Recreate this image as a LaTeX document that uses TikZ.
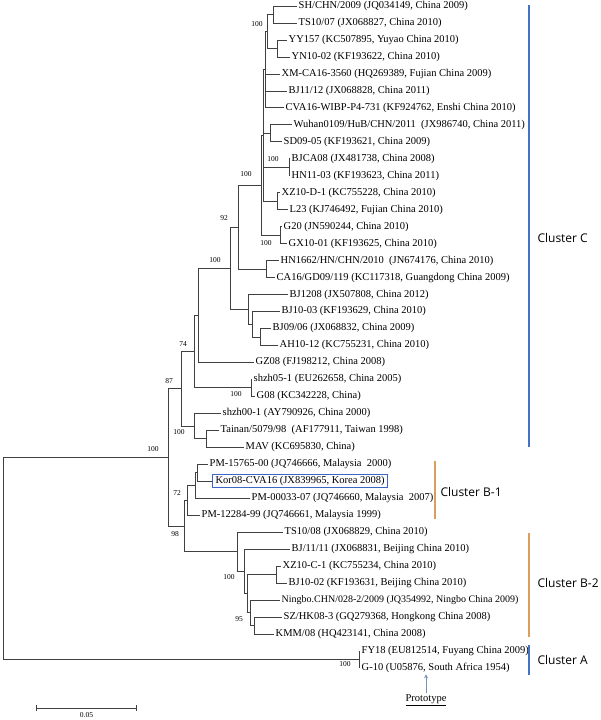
\documentclass[tikz,border=0pt]{standalone}
\usepackage{fontspec}
\setmainfont{Liberation Serif}
\newfontfamily\clfont{Open Sans}
\usetikzlibrary{arrows.meta,calc}
\definecolor{treeline}{HTML}{404040}
\definecolor{clblue}{HTML}{4472C4}
\definecolor{clorange}{HTML}{DA9F5C}
\definecolor{korblue}{HTML}{3B66C8}
\definecolor{protoblue}{HTML}{7890B8}
% y position of leaf i (top to bottom)
\pgfmathdeclarefunction{lf}{1}{\pgfmathparse{6+16.97*(#1-1)}}

\begin{document}
\begin{tikzpicture}[
  x=1pt, y=-1pt,
  branch/.style={draw=treeline, line width=0.7pt},
  leaf/.style={anchor=west, inner sep=1.5pt, font=\fontsize{10.5}{12}\selectfont},
  korbox/.style={leaf, draw=korblue, line width=1.3pt, inner xsep=3pt, inner ysep=1.8pt},
  boot/.style={font=\fontsize{7.5}{8}\selectfont, inner sep=0pt},
  clbar/.style={line width=1.1pt},
  cllabel/.style={anchor=west, font=\clfont\fontsize{12}{14}\selectfont},
  protoarr/.style={-{Stealth[length=4pt,width=4pt]}, draw=protoblue, line width=0.7pt},
  scalebar/.style={{Bar[width=6pt]}-{Bar[width=6pt]}, draw=treeline, line width=0.7pt}
]
\useasboundingbox (0,0) rectangle (600,720);

% leaves
\node[leaf] (l1) at (297,{lf(1)}) {SH/CHN/2009 (JQ034149, China 2009)};
\node[leaf] (l2) at (297,{lf(2)}) {TS10/07 (JX068827, China 2010)};
\node[leaf] (l3) at (287,{lf(3)}) {YY157 (KC507895, Yuyao China 2010)};
\node[leaf] (l4) at (290,{lf(4)}) {YN10-02 (KF193622, China 2010)};
\node[leaf] (l5) at (280,{lf(5)}) {XM-CA16-3560 (HQ269389, Fujian China 2009)};
\node[leaf] (l6) at (287,{lf(6)}) {BJ11/12 (JX068828, China 2011)};
\node[leaf] (l7) at (284,{lf(7)}) {CVA16-WIBP-P4-731 (KF924762, Enshi China 2010)};
\node[leaf] (l8) at (292,{lf(8)}) {Wuhan0109/HuB/CHN/2011\ \ (JX986740, China 2011)};
\node[leaf] (l9) at (282,{lf(9)}) {SD09-05 (KF193621, China 2009)};
\node[leaf] (l10) at (290,{lf(10)}) {BJCA08 (JX481738, China 2008)};
\node[leaf] (l11) at (290,{lf(11)}) {HN11-03 (KF193623, China 2011)};
\node[leaf] (l12) at (280,{lf(12)}) {XZ10-D-1 (KC755228, China 2010)};
\node[leaf] (l13) at (288,{lf(13)}) {L23 (KJ746492, Fujian China 2010)};
\node[leaf] (l14) at (282,{lf(14)}) {G20 (JN590244, China 2010)};
\node[leaf] (l15) at (287,{lf(15)}) {GX10-01 (KF193625, China 2010)};
\node[leaf] (l16) at (279,{lf(16)}) {HN1662/HN/CHN/2010\ \ (JN674176, China 2010)};
\node[leaf] (l17) at (275,{lf(17)}) {CA16/GD09/119 (KC117318, Guangdong China 2009)};
\node[leaf] (l18) at (288,{lf(18)}) {BJ1208 (JX507808, China 2012)};
\node[leaf] (l19) at (280,{lf(19)}) {BJ10-03 (KF193629, China 2010)};
\node[leaf] (l20) at (271,{lf(20)}) {BJ09/06 (JX068832, China 2009)};
\node[leaf] (l21) at (278,{lf(21)}) {AH10-12 (KC755231, China 2010)};
\node[leaf] (l22) at (254,{lf(22)}) {GZ08 (FJ198212, China 2008)};
\node[leaf] (l23) at (252,{lf(23)}) {shzh05-1 (EU262658, China 2005)};
\node[leaf] (l24) at (255,{lf(24)}) {G08 (KC342228, China)};
\node[leaf] (l25) at (221,{lf(25)}) {shzh00-1 (AY790926, China 2000)};
\node[leaf] (l26) at (219,{lf(26)}) {Tainan/5079/98\ \ (AF177911, Taiwan 1998)};
\node[leaf] (l27) at (244,{lf(27)}) {MAV (KC695830, China)};
\node[leaf] (l28) at (208,{lf(28)}) {PM-15765-00 (JQ746666, Malaysia\ \ 2000)};
\node[korbox] (l29) at (212,{lf(29)}) {Kor08-CVA16 (JX839965, Korea 2008)};
\node[leaf] (l30) at (250,{lf(30)}) {PM-00033-07 (JQ746660, Malaysia\ \ 2007)};
\node[leaf] (l31) at (200,{lf(31)}) {PM-12284-99 (JQ746661, Malaysia 1999)};
\node[leaf] (l32) at (283,{lf(32)}) {TS10/08 (JX068829, China 2010)};
\node[leaf] (l33) at (290,{lf(33)}) {BJ/11/11 (JX068831, Beijing China 2010)};
\node[leaf] (l34) at (281,{lf(34)}) {XZ10-C-1 (KC755234, China 2010)};
\node[leaf] (l35) at (287,{lf(35)}) {BJ10-02 (KF193631, Beijing China 2010)};
\node[leaf, font=\fontsize{10}{12}\selectfont] (l36) at (280,{lf(36)}) {Ningbo.CHN/028-2/2009 (JQ354992, Ningbo China 2009)};
\node[leaf] (l37) at (282,{lf(37)}) {SZ/HK08-3 (GQ279368, Hongkong China 2008)};
\node[leaf] (l38) at (274,{lf(38)}) {KMM/08 (HQ423141, China 2008)};
\node[leaf] (l39) at (360,{lf(39)}) {FY18 (EU812514, Fuyang China 2009)};
\node[leaf] (l40) at (360,{lf(40)}) {G-10 (U05876, South Africa 1954)};

% internal nodes, cluster C
\coordinate (nSHTS) at (273,{lf(1.5)});
\coordinate (nYY) at (277,{lf(3.5)});
\coordinate (nA1) at (267,{lf(2.5)});
\coordinate (nR) at (265,{lf(4.75)});
\coordinate (nWS) at (270,{lf(8.5)});
\coordinate (nBH) at (289,{lf(10.5)});
\coordinate (nXL) at (277,{lf(12.5)});
\coordinate (nQ) at (263,{lf(8.625)});
\coordinate (nGG) at (280,{lf(14.5)});
\coordinate (n100a) at (261,{lf(11.5625)});
\coordinate (nHC) at (266,{lf(16.5)});
\coordinate (n92) at (238,{lf(14.03)});
\coordinate (nB3) at (260,{lf(20.5)});
\coordinate (nB2) at (252,{lf(19.75)});
\coordinate (nB1) at (248,{lf(18.875)});
\coordinate (n100b) at (230,{lf(16.45)});
\coordinate (n198) at (198,{lf(19.23)});
\coordinate (nSG) at (251,{lf(23.5)});
\coordinate (n74) at (194,{lf(21.36)});
\coordinate (nTM) at (206,{lf(26.5)});
\coordinate (n100c) at (194,{lf(25.75)});
\coordinate (n87) at (181,{lf(23.56)});
% internal nodes, cluster B
\coordinate (nPK) at (197,{lf(28.5)});
\coordinate (nPKP) at (195,{lf(29.25)});
\coordinate (n72) at (187,{lf(30.125)});
\coordinate (nV) at (254,{lf(37.5)});
\coordinate (n95) at (250,{lf(36.75)});
\coordinate (nZ) at (276,{lf(34.5)});
\coordinate (nY) at (247,{lf(35.625)});
\coordinate (nX) at (244,{lf(34.3125)});
\coordinate (nB2c) at (237,{lf(33.156)});
\coordinate (n98) at (184,{lf(31.64)});
% root side
\coordinate (n100r) at (168,{lf(27.6)});
\coordinate (nA) at (359,{lf(39.5)});
\coordinate (root) at (3,{lf(33.55)});

% branches
\draw[branch] (nSHTS) |- (l1.west) (nSHTS) |- (l2.west);
\draw[branch] (nYY) |- (l3.west) (nYY) |- (l4.west);
\draw[branch] (nA1) |- (nSHTS) (nA1) |- (nYY);
\draw[branch] (nR) |- (nA1) (nR) |- (l5.west) (nR) |- (l6.west) (nR) |- (l7.west);
\draw[branch] (nWS) |- (l8.west) (nWS) |- (l9.west);
\draw[branch] (nBH) |- (l10.west) (nBH) |- (l11.west);
\draw[branch] (nXL) |- (l12.west) (nXL) |- (l13.west);
\draw[branch] (nQ) |- (nR) (nQ) |- (nWS) (nQ) |- (nBH) (nQ) |- (nXL);
\draw[branch] (nGG) |- (l14.west) (nGG) |- (l15.west);
\draw[branch] (n100a) |- (nQ) (n100a) |- (nGG);
\draw[branch] (nHC) |- (l16.west) (nHC) |- (l17.west);
\draw[branch] (n92) |- (n100a) (n92) |- (nHC);
\draw[branch] (nB3) |- (l20.west) (nB3) |- (l21.west);
\draw[branch] (nB2) |- (l19.west) (nB2) |- (nB3);
\draw[branch] (nB1) |- (l18.west) (nB1) |- (nB2);
\draw[branch] (n100b) |- (n92) (n100b) |- (nB1);
\draw[branch] (n198) |- (n100b) (n198) |- (l22.west);
\draw[branch] (nSG) |- (l23.west) (nSG) |- (l24.west);
\draw[branch] (n74) |- (n198) (n74) |- (nSG);
\draw[branch] (nTM) |- (l26.west) (nTM) |- (l27.west);
\draw[branch] (n100c) |- (l25.west) (n100c) |- (nTM);
\draw[branch] (n87) |- (n74) (n87) |- (n100c);
\draw[branch] (nPK) |- (l28.west) (nPK) |- (l29.west);
\draw[branch] (nPKP) |- (nPK) (nPKP) |- (l30.west);
\draw[branch] (n72) |- (nPKP) (n72) |- (l31.west);
\draw[branch] (nV) |- (l37.west) (nV) |- (l38.west);
\draw[branch] (n95) |- (l36.west) (n95) |- (nV);
\draw[branch] (nZ) |- (l34.west) (nZ) |- (l35.west);
\draw[branch] (nY) |- (nZ) (nY) |- (n95);
\draw[branch] (nX) |- (l33.west) (nX) |- (nY);
\draw[branch] (nB2c) |- (l32.west) (nB2c) |- (nX);
\draw[branch] (n98) |- (n72) (n98) |- (nB2c);
\draw[branch] (n100r) |- (n87) (n100r) |- (n98);
\draw[branch] (nA) |- (l39.west) (nA) |- (l40.west);
\draw[branch] (root) |- (n100r) (root) |- (nA);

% bootstrap values
\node[boot] at ([shift={(-10pt,7.5pt)}]nA1) {100};
\node[boot] at ([shift={(-15pt,11pt)}]n100a) {100};
\node[boot] at ([shift={(-16pt,8pt)}]nBH) {100};
\node[boot] at ([shift={(-14pt,-8pt)}]nGG) {100};
\node[boot] at ([shift={(-14pt,9pt)}]n92) {92};
\node[boot] at ([shift={(-15pt,8pt)}]n100b) {100};
\node[boot] at ([shift={(-11pt,7.5pt)}]n74) {74};
\node[boot] at ([shift={(-12pt,8pt)}]n87) {87};
\node[boot] at ([shift={(-15pt,-6pt)}]nSG) {100};
\node[boot] at ([shift={(-15pt,-6pt)}]n100c) {100};
\node[boot] at ([shift={(-15pt,8pt)}]n100r) {100};
\node[boot] at ([shift={(-10pt,7pt)}]n72) {72};
\node[boot] at ([shift={(-9pt,-8pt)}]n98) {98};
\node[boot] at ([shift={(-15pt,-6pt)}]nX) {100};
\node[boot] at ([shift={(-11pt,-6pt)}]n95) {95};
\node[boot] at ([shift={(-14pt,-5pt)}]nA) {100};

% clusters
\coordinate (cCt) at (529,5);   \coordinate (cCb) at (529,447);
\coordinate (cB1t) at (435,461); \coordinate (cB1b) at (435,519);
\coordinate (cB2t) at (529,533); \coordinate (cB2b) at (529,637);
\coordinate (cAt) at (529,645);  \coordinate (cAb) at (529,675);
\draw[clbar, draw=clblue] (cCt) -- (cCb);
\draw[clbar, draw=clorange] (cB1t) -- (cB1b);
\draw[clbar, draw=clorange] (cB2t) -- (cB2b);
\draw[clbar, draw=clblue] (cAt) -- (cAb);
\node[cllabel] (labC) at (534,238) {Cluster C};
\node[cllabel] (labB1) at (437,492) {Cluster B-1};
\node[cllabel] (labB2) at (534,583) {Cluster B-2};
\node[cllabel] (labA) at (534,660) {Cluster A};

% prototype
\node[leaf, anchor=center] (proto) at (426,700) {\underline{Prototype}};
\draw[protoarr] (proto.north) -- (proto.north |- l40.south);

% scale bar
\coordinate (sbL) at (36,708);
\coordinate (sbR) at (137,708);
\draw[scalebar] (sbL) -- (sbR) node[boot, midway, below=4pt] (sbtxt) {0.05};
\end{tikzpicture}
\end{document}
